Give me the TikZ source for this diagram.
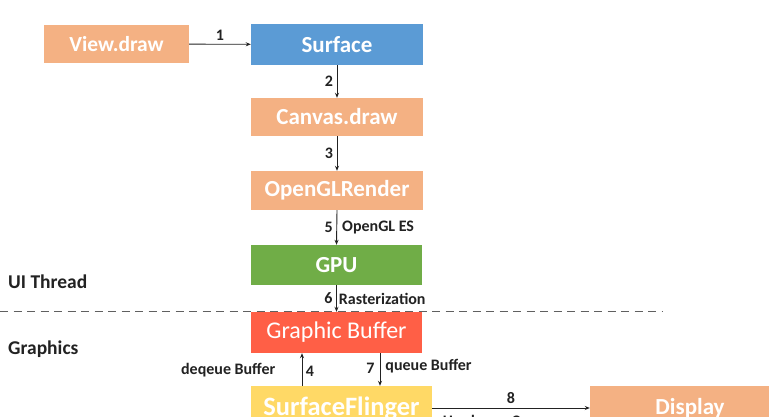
\documentclass[tikz,border=0pt]{standalone}
\usepackage{fontspec}
\setmainfont{Carlito}
\usetikzlibrary{arrows.meta,calc}
\definecolor{corange}{HTML}{F4B183}
\definecolor{cblue}{HTML}{5B9BD5}
\definecolor{cgreen}{HTML}{70AD47}
\definecolor{cred}{HTML}{FF5F46}
\definecolor{cyellow}{HTML}{FFD966}
\definecolor{cline}{HTML}{222222}
\definecolor{cdash}{HTML}{606060}
\tikzset{
  box/.style={rectangle, inner sep=0pt, text=white, font=\fontsize{23}{23}\selectfont\bfseries},
  arr/.style={draw=cline, line width=0.9pt, -{Stealth[length=5pt,width=4pt]}},
  lbl/.style={text=cline, font=\fontsize{16}{16}\selectfont\bfseries, inner sep=3.5pt},
  side/.style={text=cline, font=\fontsize{19.5}{19.5}\selectfont\bfseries, anchor=west, inner sep=0pt},
}
\begin{document}
\begin{tikzpicture}[x=1pt,y=-1pt]
\useasboundingbox[fill=white] (0,0) rectangle (769,417);
\node[box, fill=corange, minimum width=145pt, minimum height=38pt, font=\fontsize{21.5}{21.5}\selectfont\bfseries] (view) at (116.5,44) {View.draw};
\node[box, fill=cblue, minimum width=172pt, minimum height=41pt] (surface) at (337,44.5) {Surface};
\node[box, fill=corange, minimum width=172pt, minimum height=38pt] (canvas) at (337,117) {Canvas.draw};
\node[box, fill=corange, minimum width=172pt, minimum height=39pt] (ogl) at (337,190.5) {OpenGLRender};
\node[box, fill=cgreen, minimum width=171pt, minimum height=40pt] (gpu) at (336.5,265) {GPU};
\node[box, fill=cred, minimum width=171pt, minimum height=41pt, font=\fontsize{24}{24}\selectfont] (gb) at (336.5,332.5) {Graphic Buffer};
\node[box, fill=cyellow, minimum width=181pt, minimum height=44pt, font=\fontsize{26.5}{26.5}\selectfont\bfseries] (sf) at (341.5,408) {SurfaceFlinger};
\node[box, fill=corange, minimum width=200pt, minimum height=44pt, font=\fontsize{23}{23}\selectfont\bfseries] (disp) at (690,408) {Display};

\node[side] (ui) at (8,282) {UI Thread};
\node[side] (gr) at (8,349) {Graphics};
\coordinate (dl) at (0,311);
\coordinate (dr) at (662,311);
\draw[cdash, line width=1pt, dash pattern=on 8pt off 5.5pt] (dl) -- (dr);

\draw[arr] (view) -- node[lbl, above] {1} (surface);
\draw[arr] (surface.south) -- node[lbl, left] {2} (canvas.north);
\draw[arr] (canvas.south) -- node[lbl, left] {3} (ogl.north);
\draw[arr] (ogl.south) -- node[lbl, left] {5} node[lbl, right, inner sep=5pt] {OpenGL ES} (gpu.north);
\draw[arr] (gpu.south) -- node[lbl, left, pos=0.5] {6} node[lbl, right, pos=0.5, inner sep=2pt] {Rasterization} (gb.north);

\coordinate (x4) at (302,0);
\coordinate (x7) at (380,0);
\draw[arr] (sf.north -| x4) -- node[lbl, right, pos=0.45] {4} (gb.south -| x4);
\node[lbl, anchor=east] (deq) at (279,370) {deqeue Buffer};
\draw[arr] (gb.south -| x7) -- node[lbl, left, pos=0.45, inner sep=5pt] {7} node[lbl, right, pos=0.4, inner sep=5pt] {queue Buffer} (sf.north -| x7);
\draw[arr] (sf.east) -- node[lbl, above] {8} node[lbl, below, yshift=-3.5pt] {Hardware Composer} (disp.west);
\end{tikzpicture}
\end{document}
